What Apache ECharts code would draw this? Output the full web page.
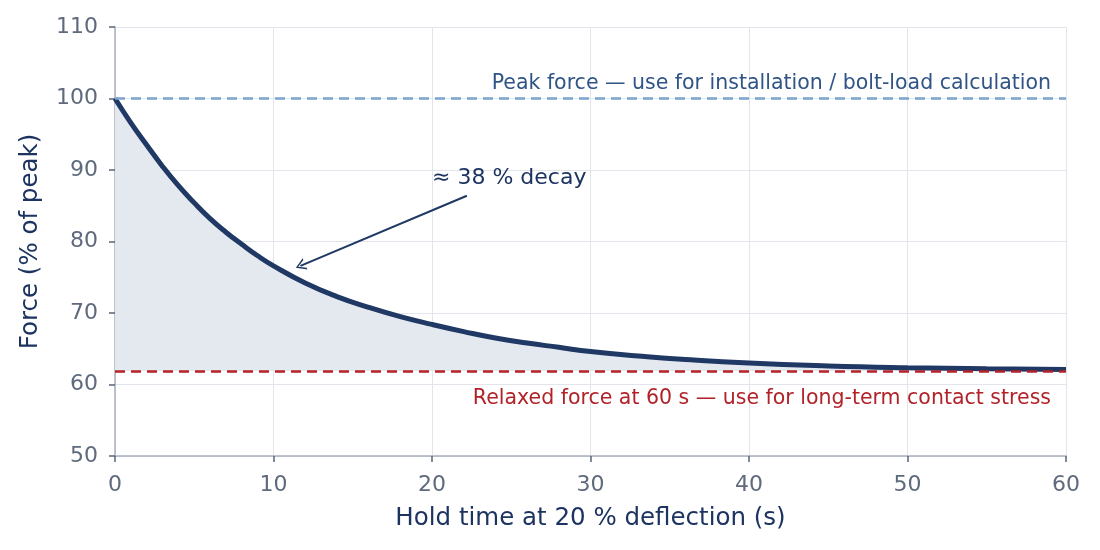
<!DOCTYPE html>
<html>
<head>
<meta charset="utf-8">
<script src="https://cdn.jsdelivr.net/npm/echarts@6/dist/echarts.min.js"></script>
<style>
  html, body { margin: 0; padding: 0; background: #fff; }
  #chart { width: 1100px; height: 550px; }
</style>
</head>
<body>
<div id="chart"></div>
<script>
// hold time (s) and force (% of peak)
var holdTime = [0, 1, 2, 3, 4, 5, 6, 7, 8, 9, 10, 12, 14, 16, 18, 20, 22, 24, 26, 28, 30, 33, 36, 40, 45, 50, 55, 60];
var force = [100, 96.6, 93.5, 90.5, 87.8, 85.4, 83.2, 81.3, 79.6, 78.0, 76.6, 74.2, 72.3, 70.8, 69.5, 68.4, 67.4, 66.5, 65.8, 65.2, 64.6, 64.0, 63.5, 63.0, 62.6, 62.35, 62.2, 62.1];
var peakForce = 100;
var relaxedForce = 61.9;
var xTicks = [0, 10, 20, 30, 40, 50, 60];
var yTicks = [50, 60, 70, 80, 90, 100, 110];
var decayLabel = "≈ 38 % decay";
var arrowFrom = [22.2, 86.4];
var arrowTo = [11.7, 76.6];
var labelAt = [20.0, 88.9];

var curve = holdTime.map(function (t, i) { return [t, force[i]]; });

var dom = document.getElementById("chart");
var myChart = echarts.init(dom);
var font = "DejaVu Sans";
var option = {
  animation: false,
  textStyle: { fontFamily: font },
  grid: { left: 115, right: 34, top: 27, bottom: 94 },
  xAxis: {
    type: "value",
    min: xTicks[0],
    max: xTicks[xTicks.length - 1],
    interval: 10,
    name: "Hold time at 20 % deflection (s)",
    nameLocation: "middle",
    nameGap: 50,
    nameTextStyle: { fontSize: 24.5, color: "#1d3461", fontFamily: font },
    axisLine: { show: true, lineStyle: { color: "#a9afbd", width: 1.5 } },
    axisTick: { show: true, length: 6, lineStyle: { color: "#5a6478", width: 1.5 } },
    axisLabel: { fontSize: 22, color: "#5f6a7d", margin: 18, fontFamily: font },
    splitLine: { show: true, lineStyle: { color: "#e2e5eb", width: 1 } }
  },
  yAxis: {
    type: "value",
    min: yTicks[0],
    max: yTicks[yTicks.length - 1],
    interval: 10,
    name: "Force (% of peak)",
    nameLocation: "middle",
    nameGap: 72,
    nameTextStyle: { fontSize: 24.5, color: "#1d3461", fontFamily: font },
    axisLine: { show: true, lineStyle: { color: "#a9afbd", width: 1.5 } },
    axisTick: { show: true, length: 6, lineStyle: { color: "#5a6478", width: 1.5 } },
    axisLabel: { fontSize: 22, color: "#5f6a7d", margin: 17, fontFamily: font },
    splitLine: { show: true, lineStyle: { color: "#e2e5eb", width: 1 } }
  },
  series: [
    {
      type: "line",
      data: curve,
      smooth: true,
      showSymbol: false,
      lineStyle: { color: "#1f3864", width: 5 },
      areaStyle: { color: "#e4e9f0", opacity: 1, origin: relaxedForce },
      z: 3,
      markLine: {
        silent: true,
        symbol: ["none", "none"],
        data: [
          {
            yAxis: peakForce,
            lineStyle: { color: "#7ba3d0", type: [10, 6], width: 2.5 },
            label: {
              show: true,
              position: "insideEndTop",
              formatter: "Peak force — use for installation / bolt-load calculation",
              color: "#2f5486",
              fontSize: 20.5,
              fontFamily: font,
              distance: [15, 4]
            }
          },
          {
            yAxis: relaxedForce,
            lineStyle: { color: "#b52229", type: [10, 6], width: 2.5 },
            label: {
              show: true,
              position: "insideEndBottom",
              formatter: "Relaxed force at 60 s — use for long-term contact stress",
              color: "#b22229",
              fontSize: 20.5,
              fontFamily: font,
              distance: [15, 17]
            }
          }
        ]
      }
    },
    {
      type: "line",
      data: [],
      markLine: {
        silent: true,
        symbol: ["none", "path://M0,10 L5,0 L10,10 L8.6,10 L5,2.6 L1.4,10 Z"],
        symbolSize: [12, 10],
        lineStyle: { color: "#1f3864", width: 2, type: "solid" },
        label: { show: false },
        data: [[{ coord: arrowFrom }, { coord: arrowTo }]]
      },
      markPoint: {
        silent: true,
        symbol: "circle",
        symbolSize: 0,
        data: [{
          coord: labelAt,
          label: {
            show: true,
            formatter: decayLabel,
            position: "right",
            distance: 0,
            color: "#1d3461",
            fontSize: 22,
            fontFamily: font
          }
        }]
      }
    }
  ]
};
if (option && typeof option === "object") {
  myChart.setOption(option);
}
</script>
</body>
</html>
